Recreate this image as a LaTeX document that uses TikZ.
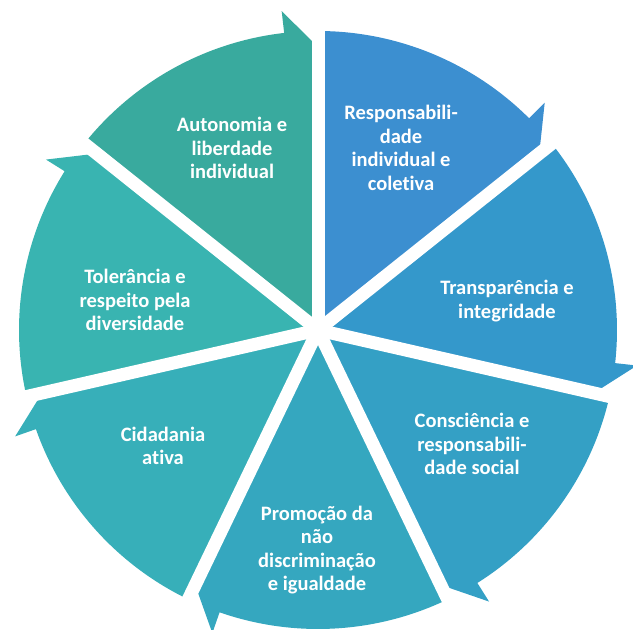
\documentclass[tikz,border=0pt]{standalone}
\usepackage{fontspec}
\setmainfont{Carlito}[Ligatures=NoCommon]
\definecolor{respcol}{HTML}{3C8FD0}
\definecolor{transpcol}{HTML}{3498CB}
\definecolor{consccol}{HTML}{34A0C5}
\definecolor{promocol}{HTML}{35A7BF}
\definecolor{cidadcol}{HTML}{37AFB9}
\definecolor{tolercol}{HTML}{39B4B1}
\definecolor{autoncol}{HTML}{39AA9E}

\begin{document}
\begin{tikzpicture}
            [x=1pt, y=1pt, seglabel/.style={text=white, align=center, font=\bfseries\fontsize{20.5}{23.5}\selectfont}]
            \useasboundingbox (0,0) rectangle (633,630);
            \begin{scope}[shift={(318,300)}]
            % segments, clockwise from the top, barb at the clockwise end
            \foreach \a/\col in {90/respcol, 38.57/transpcol, -12.86/consccol, -64.29/promocol,
                                 -115.71/cidadcol, -167.14/tolercol, -218.57/autoncol} {
                \pgfmathsetmacro\b{\a-51.43}
                \pgfmathsetmacro\c{\b+6.5}
                \fill[\col] (0,0) -- (\a:299) arc[start angle=\a, end angle=\c, radius=299]
                    -- (\c:321) -- (\b:283) -- cycle;
            }
            % gaps
            \foreach \a in {90, 38.57, -12.86, -64.29, -115.71, -167.14, -218.57}
                \draw[white, line width=13pt] (0,0) -- (\a:302);
            \end{scope}

            \node[seglabel] (resp) at (401, 482) {Responsabili-\\dade\\individual e\\coletiva};
            \node[seglabel] (transp) at (507, 329) {Transparência e\\integridade};
            \node[seglabel] (consc) at (472, 186) {Consciência e\\responsabili-\\dade social};
            \node[seglabel] (promo) at (317, 80) {Promoção da\\não\\discriminação\\e igualdade};
            \node[seglabel] (cidad) at (163, 184) {Cidadania\\ativa};
            \node[seglabel] (toler) at (135, 330) {Tolerância e\\respeito pela\\diversidade};
            \node[seglabel] (auton) at (232, 482) {Autonomia e\\liberdade\\individual};
        \end{tikzpicture}
\end{document}
